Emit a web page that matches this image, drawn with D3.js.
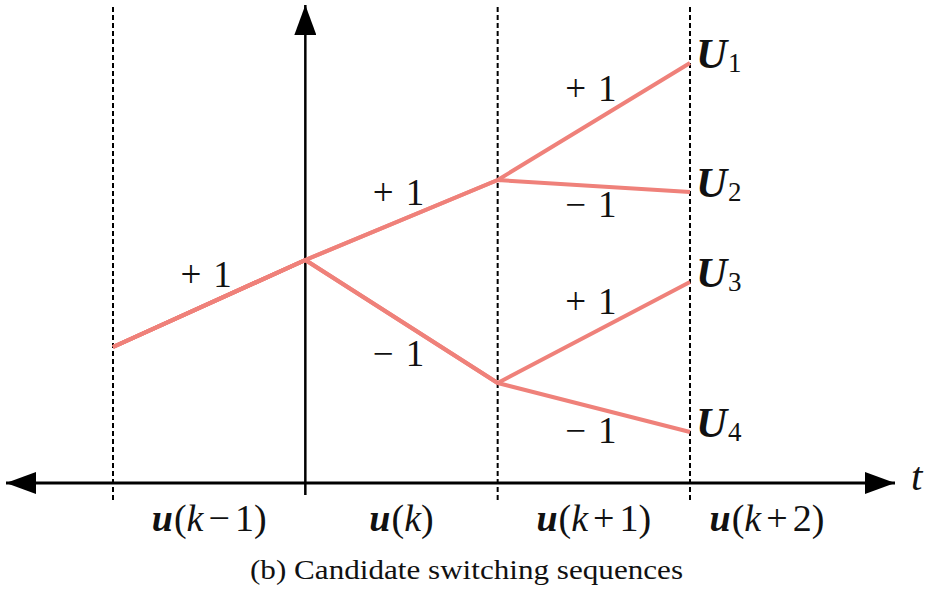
<!DOCTYPE html>
<html>
<head>
<meta charset="utf-8">
<script src="https://cdn.jsdelivr.net/npm/d3@7"></script>
<style>
  body { margin: 0; background: #fff; }
  svg { display: block; }
  .lbl { font-family: "Liberation Serif", "DejaVu Serif", serif; fill: #111; }
</style>
</head>
<body>
<svg id="chart" width="929" height="592"></svg>
<script>
// Sampling instants k-1 .. k+2 and the value reached by each candidate sequence
const steps = [-1, 0, 1, 2];
const seqU1 = [136, 223, 303, 420];
const seqU2 = [136, 223, 303, 291];
const seqU3 = [136, 223, 100, 201];
const seqU4 = [136, 223, 100, 51];
const sequences = [seqU1, seqU2, seqU3, seqU4];
const sequenceNames = ["1", "2", "3", "4"];
// Offsets added to k for the input labels under the time axis
const inputOffsets = ["\u22121", "", "+1", "+2"];
const caption = "(b) Candidate switching sequences";

// ---- layout ----
const svg = d3.select("#chart");
const x = d3.scaleLinear().domain([-1, 2]).range([113, 690]);
const y = d3.scaleLinear().domain([0, 420]).range([483, 63]);
const axisLeft = 6, axisRight = 895, axisTop = 5;
const guideTop = 7, guideBottom = 502;
const inputLabelAt = [-0.5, 0.5, 1.5, 2.4];
const lineColor = "#ef817a";
const ink = "#000";

// arrowhead marker
const defs = svg.append("defs");
defs.append("marker")
  .attr("id", "arrow")
  .attr("viewBox", "0 0 30 22")
  .attr("refX", 30).attr("refY", 11)
  .attr("markerWidth", 30).attr("markerHeight", 22)
  .attr("markerUnits", "userSpaceOnUse")
  .attr("orient", "auto-start-reverse")
  .append("path")
  .attr("d", "M0,0 L30,11 L0,22 Z")
  .attr("fill", ink);

// dashed guides at the switching instants (the vertical axis sits at k)
svg.append("g").selectAll("line")
  .data(steps.filter(s => s !== 0))
  .join("line")
  .attr("x1", d => x(d)).attr("x2", d => x(d))
  .attr("y1", guideTop).attr("y2", guideBottom)
  .attr("stroke", ink).attr("stroke-width", 2)
  .attr("stroke-dasharray", "5,3");

// time axis (double-headed)
svg.append("line")
  .attr("x1", axisLeft).attr("x2", axisRight)
  .attr("y1", y(0)).attr("y2", y(0))
  .attr("stroke", ink).attr("stroke-width", 3)
  .attr("marker-start", "url(#arrow)")
  .attr("marker-end", "url(#arrow)");

// vertical axis at instant k
svg.append("line")
  .attr("x1", x(0)).attr("x2", x(0))
  .attr("y1", y(0) + 12).attr("y2", axisTop)
  .attr("stroke", ink).attr("stroke-width", 2.5)
  .attr("marker-end", "url(#arrow)");

// candidate trajectories
const line = d3.line().x((d, i) => x(steps[i])).y(d => y(d));
svg.append("g").selectAll("path")
  .data(sequences)
  .join("path")
  .attr("d", d => line(d))
  .attr("fill", "none")
  .attr("stroke", lineColor)
  .attr("stroke-width", 4)
  .attr("stroke-linejoin", "round");

svg.append("text").attr("class", "lbl")
  .attr("x", 911).attr("y", 490)
  .attr("font-size", 41).attr("font-style", "italic")
  .text("t");

// one label per distinct segment: the switching action (+1 rising, -1 falling)
const segments = [];
const seen = new Set();
sequences.forEach(seq => {
  for (let i = 0; i < seq.length - 1; i++) {
    const key = `${i}:${seq[i]}:${seq[i + 1]}`;
    if (seen.has(key)) continue;
    seen.add(key);
    segments.push({ t0: steps[i], t1: steps[i + 1], v0: seq[i], v1: seq[i + 1] });
  }
});
// labels sit above rising segments and below falling ones, further out on steeper slopes
const slopeOf = d => Math.abs((y(d.v1) - y(d.v0)) / (x(d.t1) - x(d.t0)));
const actLabels = svg.append("g").selectAll("text")
  .data(segments)
  .join("text").attr("class", "lbl")
  .attr("font-size", 37)
  .attr("text-anchor", "middle")
  .attr("x", d => (x(d.t0) + x(d.t1)) / 2 - 3)
  .attr("y", d => {
    const my = (y(d.v0) + y(d.v1)) / 2;
    const s = slopeOf(d);
    return d.v1 > d.v0 ? my - (5 + 25 * s) : my + (30 + 22 * s);
  });
actLabels.append("tspan").text(d => d.v1 > d.v0 ? "+" : "\u2212");
actLabels.append("tspan").attr("dx", 12).text("1");

// end-point labels U1..U4
const endLabels = svg.append("g").selectAll("text")
  .data(sequences)
  .join("text").attr("class", "lbl")
  .attr("x", d => x(steps[steps.length - 1]) + 6)
  .attr("y", d => y(d[d.length - 1]) + 5);
endLabels.append("tspan")
  .attr("font-size", 43).attr("font-weight", "bold").attr("font-style", "italic")
  .text("U");
endLabels.append("tspan")
  .attr("font-size", 27).attr("dx", 1).attr("dy", 4)
  .text((d, i) => sequenceNames[i]);

// input labels u(k-1) .. u(k+2)
const inLabels = svg.append("g").selectAll("text")
  .data(inputOffsets)
  .join("text").attr("class", "lbl")
  .attr("font-size", 38)
  .attr("text-anchor", "middle")
  .attr("x", (d, i) => x(inputLabelAt[i]))
  .attr("y", 531);
inLabels.append("tspan").attr("font-weight", "bold").attr("font-style", "italic").text("u");
inLabels.append("tspan").attr("dx", 1).text("(");
inLabels.append("tspan").attr("font-style", "italic").text("k");
inLabels.append("tspan").attr("dx", d => d ? 5 : 0).text(d => d ? d[0] : "");
inLabels.append("tspan").attr("dx", d => d ? 5 : 0).text(d => d ? d.slice(1) : "");
inLabels.append("tspan").text(")");

// caption
svg.append("text").attr("class", "lbl")
  .attr("x", 250).attr("y", 579)
  .attr("font-size", 28)
  .attr("textLength", 433)
  .attr("lengthAdjust", "spacingAndGlyphs")
  .text(caption);
</script>
</body>
</html>
